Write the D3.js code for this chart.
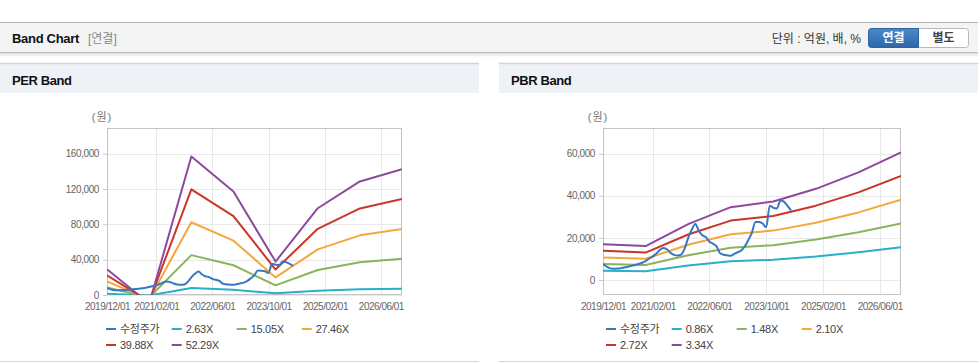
<!DOCTYPE html>
<html>
<head>
<meta charset="utf-8">
<script src="https://cdn.jsdelivr.net/npm/d3@7"></script>
<style>
  body { margin: 0; background: #fff; font-family: "Liberation Sans", "Noto Sans CJK KR", sans-serif; }
  svg { display: block; }
</style>
</head>
<body>
<svg id="chart" width="978" height="364"></svg>
<script>
// ---- data ----
var bandDates = ['2019-12-01', '2020-12-01', '2021-12-01', '2022-12-01', '2023-12-01', '2024-12-01', '2025-12-01', '2026-12-01'];
var xStart = '2019-12-01', xEnd = '2026-12-01';
var xTickDates = ['2019-12-01', '2021-02-01', '2022-06-01', '2023-10-01', '2025-02-01', '2026-06-01'];

// 수정주가, monthly from 2019/12
var priceStart = '2019-12-01';
var adjPrice = [7600, 6400, 5500, 5300, 5400, 5600, 5900, 6300, 6700, 7100,
  7600, 8200, 9000, 10200, 11200, 12500, 14200, 15200, 14600, 13000,
  11900, 11600, 12000, 15000, 20000, 24000, 26600, 23500, 21200, 20400,
  18200, 17300, 16000, 12700, 12000, 11700, 11500, 12400, 13200, 14000,
  16000, 19000, 22500, 27600, 27500, 26800, 25000, 35300, 34300, 34000,
  37800, 37200, 35200, 33000];

// PER band (negative 2020 values fall below the plot and get clipped)
var perNames = ['2.63X', '15.05X', '27.46X', '39.88X', '52.29X'];
var per1 = [1460, -490, 7890, 5890, 1900, 4940, 6460, 7160];
var per2 = [8400, -2800, 45100, 33700, 10900, 28300, 37000, 41000];
var per3 = [15300, -5100, 82300, 61500, 19900, 51600, 67500, 74800];
var per4 = [22200, -7400, 119600, 89300, 28800, 74900, 98000, 108600];
var per5 = [29100, -9700, 156800, 117100, 37800, 98200, 128500, 142400];
var perTicks = [0, 40000, 80000, 120000, 160000];

// PBR band
var pbrNames = ['0.86X', '1.48X', '2.10X', '2.72X', '3.34X'];
var pbr1 = [4380, 4150, 6820, 8910, 9600, 11150, 13160, 15600];
var pbr2 = [7530, 7130, 11740, 15330, 16530, 19190, 22640, 26850];
var pbr3 = [10700, 10100, 16700, 21750, 23450, 27200, 32100, 38100];
var pbr4 = [13850, 13000, 21600, 28200, 30400, 35300, 41600, 49400];
var pbr5 = [17000, 16100, 26500, 34600, 37300, 43300, 51100, 60600];
var pbrTicks = [0, 20000, 40000, 60000];

var colors = ['#3a77c2', '#27b0c6', '#8ab35a', '#f4a83a', '#c93629', '#8d4a9c'];

var svg = d3.select('#chart');
var parse = d3.timeParse('%Y-%m-%d');
var fmtTick = d3.timeFormat('%Y/%m/%d');
var fmtNum = d3.format(',');

// ---- top bar ----
var defs = svg.append('defs');
var sh = defs.append('linearGradient').attr('id', 'shadow').attr('x1', 0).attr('y1', 0).attr('x2', 0).attr('y2', 1);
sh.append('stop').attr('offset', 0).attr('stop-color', '#000').attr('stop-opacity', 0.13);
sh.append('stop').attr('offset', 1).attr('stop-color', '#000').attr('stop-opacity', 0);
var btn = defs.append('linearGradient').attr('id', 'btnBlue').attr('x1', 0).attr('y1', 0).attr('x2', 0).attr('y2', 1);
btn.append('stop').attr('offset', 0).attr('stop-color', '#4b88ca');
btn.append('stop').attr('offset', 1).attr('stop-color', '#2d67a9');

svg.append('rect').attr('x', 0).attr('y', 22).attr('width', 978).attr('height', 31).attr('fill', '#f4f4f4');
svg.append('rect').attr('x', 0).attr('y', 53).attr('width', 978).attr('height', 4).attr('fill', 'url(#shadow)');
svg.append('line').attr('x1', 0).attr('x2', 978).attr('y1', 22.5).attr('y2', 22.5).attr('stroke', '#b3b3b3');
svg.append('line').attr('x1', 0).attr('x2', 978).attr('y1', 52.5).attr('y2', 52.5).attr('stroke', '#bcbcbc');
svg.append('text').attr('x', 12).attr('y', 43).attr('font-size', 13).attr('font-weight', 'bold')
  .attr('letter-spacing', -0.3).attr('fill', '#111').text('Band Chart');
svg.append('text').attr('x', 88).attr('y', 43).attr('font-size', 12).attr('fill', '#888').text('[연결]');
svg.append('text').attr('x', 861).attr('y', 43).attr('text-anchor', 'end').attr('font-size', 12)
  .attr('fill', '#333').text('단위 : 억원, 배, %');

svg.append('rect').attr('x', 868.5).attr('y', 28.5).attr('width', 100).attr('height', 19).attr('rx', 3)
  .attr('fill', '#fff').attr('stroke', '#b8b8b8');
svg.append('path').attr('d', 'M918.5,28.5 H871.5 Q868.5,28.5 868.5,31.5 V44.5 Q868.5,47.5 871.5,47.5 H918.5 Z')
  .attr('fill', 'url(#btnBlue)').attr('stroke', '#2c64a3');
svg.append('text').attr('x', 893.5).attr('y', 42).attr('text-anchor', 'middle').attr('font-size', 12)
  .attr('font-weight', 'bold').attr('fill', '#fff').text('연결');
svg.append('text').attr('x', 943.5).attr('y', 42).attr('text-anchor', 'middle').attr('font-size', 12)
  .attr('font-weight', 'bold').attr('fill', '#444').text('별도');

// ---- one band panel ----
function drawBand(cfg) {
  var g = svg.append('g');

  // panel chrome
  g.append('rect').attr('x', cfg.px).attr('y', 64).attr('width', 479).attr('height', 29).attr('fill', '#eef2f7');
  g.append('line').attr('x1', cfg.px).attr('x2', cfg.px + 479).attr('y1', 63.5).attr('y2', 63.5)
    .attr('stroke', '#d2d2d2').attr('stroke-width', 1.5);
  g.append('line').attr('x1', cfg.px).attr('x2', cfg.px + 479).attr('y1', 361.5).attr('y2', 361.5)
    .attr('stroke', '#d6d6d6');
  g.append('text').attr('x', cfg.px + 12).attr('y', 85).attr('font-size', 13).attr('font-weight', 'bold')
    .attr('letter-spacing', -0.4).attr('fill', '#111').text(cfg.title);

  var x = d3.scaleTime().domain([parse(xStart), parse(xEnd)]).range([cfg.left, cfg.right]);
  var y = d3.scaleLinear().domain(cfg.yDomain).range([cfg.bottom, cfg.top]);

  // grid
  g.append('g').selectAll('line').data(cfg.yTicks).enter().append('line')
    .attr('x1', cfg.left).attr('x2', cfg.right)
    .attr('y1', function(d) { return Math.round(y(d)) + 0.5; })
    .attr('y2', function(d) { return Math.round(y(d)) + 0.5; })
    .attr('stroke', '#e8e8e8');
  g.append('g').selectAll('line').data(xTickDates.slice(1)).enter().append('line')
    .attr('x1', function(d) { return Math.round(x(parse(d))) + 0.5; })
    .attr('x2', function(d) { return Math.round(x(parse(d))) + 0.5; })
    .attr('y1', cfg.top).attr('y2', cfg.bottom)
    .attr('stroke', '#e8e8e8');

  // axes
  var yAxis = d3.axisLeft(y).tickValues(cfg.yTicks).tickSize(4).tickPadding(4).tickFormat(fmtNum);
  var ya = g.append('g').attr('transform', 'translate(' + cfg.left + ',0)').call(yAxis);
  ya.select('.domain').remove();
  ya.selectAll('line').attr('stroke', '#c8c8c8');
  ya.selectAll('text').attr('font-size', 10).attr('letter-spacing', -0.4).attr('fill', '#666')
    .attr('font-family', '"Liberation Sans", sans-serif');

  var xAxis = d3.axisBottom(x).tickValues(xTickDates.map(parse)).tickSize(0).tickPadding(8).tickFormat(fmtTick);
  var xa = g.append('g').attr('transform', 'translate(0,' + cfg.bottom + ')').call(xAxis);
  xa.select('.domain').remove();
  xa.selectAll('text').attr('font-size', 10).attr('letter-spacing', -0.5).attr('fill', '#666')
    .attr('font-family', '"Liberation Sans", sans-serif');

  g.append('rect').attr('x', cfg.left + 0.5).attr('y', cfg.top + 0.5)
    .attr('width', cfg.right - cfg.left - 1).attr('height', cfg.bottom - cfg.top - 1)
    .attr('fill', 'none').attr('stroke', '#c4c4c4');

  g.append('text').attr('x', cfg.left - 5).attr('y', 121).attr('text-anchor', 'middle')
    .attr('font-size', 11).attr('letter-spacing', 1).attr('fill', '#777').text('(원)');

  // lines
  var clipId = 'clip-' + cfg.title.split(' ')[0];
  defs.append('clipPath').attr('id', clipId).append('rect')
    .attr('x', cfg.left).attr('y', cfg.top).attr('width', cfg.right - cfg.left).attr('height', cfg.bottom - cfg.top);
  var plot = g.append('g').attr('clip-path', 'url(#' + clipId + ')');

  var line = d3.line()
    .x(function(d) { return x(d.date); })
    .y(function(d) { return y(d.value); });

  cfg.bands.forEach(function(vals, i) {
    var pts = vals.map(function(v, j) { return { date: parse(bandDates[j]), value: v }; });
    plot.append('path').datum(pts).attr('d', line)
      .attr('fill', 'none').attr('stroke', colors[i + 1]).attr('stroke-width', 2)
      .attr('stroke-linejoin', 'round');
  });

  var pricePts = adjPrice.map(function(v, j) {
    return { date: d3.timeMonth.offset(parse(priceStart), j), value: v };
  });
  plot.append('path').datum(pricePts).attr('d', line.curve(d3.curveMonotoneX))
    .attr('fill', 'none').attr('stroke', colors[0]).attr('stroke-width', 2)
    .attr('stroke-linejoin', 'round');

  // legend
  var names = ['수정주가'].concat(cfg.names);
  var colX = [0, 65.7, 130.7, 195.7];
  var leg = g.append('g').selectAll('g').data(names).enter().append('g')
    .attr('transform', function(d, i) {
      return 'translate(' + (cfg.legendX + colX[i % 4]) + ',' + (329 + Math.floor(i / 4) * 16) + ')';
    });
  leg.append('line').attr('x1', 0).attr('x2', 10).attr('y1', 0).attr('y2', 0)
    .attr('stroke', function(d, i) { return colors[i]; }).attr('stroke-width', 2);
  leg.append('text').attr('x', 14).attr('y', 4).attr('font-size', 11).attr('letter-spacing', -0.3)
    .attr('fill', '#444').text(function(d) { return d; });
}

drawBand({
  title: 'PER Band', px: 0,
  left: 107, right: 402, top: 128, bottom: 295,
  yDomain: [0, 189000], yTicks: perTicks,
  bands: [per1, per2, per3, per4, per5], names: perNames,
  legendX: 106
});

drawBand({
  title: 'PBR Band', px: 499,
  left: 603, right: 901, top: 128, bottom: 295,
  yDomain: [-7140, 72200], yTicks: pbrTicks,
  bands: [pbr1, pbr2, pbr3, pbr4, pbr5], names: pbrNames,
  legendX: 606
});
</script>
</body>
</html>
